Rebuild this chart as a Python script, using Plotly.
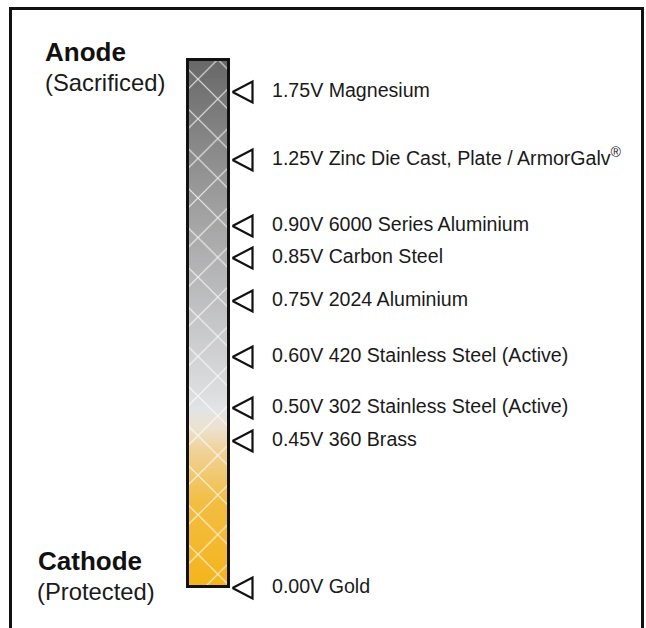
import plotly.graph_objects as go

# ---- data ----
voltages = [1.75, 1.25, 0.90, 0.85, 0.75, 0.60, 0.50, 0.45, 0.00]
metals = [
    "Magnesium",
    "Zinc Die Cast, Plate / ArmorGalv<sup>®</sup>",
    "6000 Series Aluminium",
    "Carbon Steel",
    "2024 Aluminium",
    "420 Stainless Steel (Active)",
    "302 Stainless Steel (Active)",
    "360 Brass",
    "Gold",
]
# vertical position of each entry on the (schematic) scale, top = anode
slot = [92, 160, 226, 258, 301, 357, 408, 441, 588]

bar_top, bar_bottom = 59.5, 586.5
bar_left, bar_right = 187.5, 228.5

# gradient colour stops (fraction from top of bar)
grad_stops = [
    [0.00, "#676767"],
    [0.30, "#a3a3a4"],
    [0.665, "#e2e3e5"],
    [0.70, "#ece2cf"],
    [0.74, "#efd39c"],
    [0.84, "#f2bd42"],
    [1.00, "#f4b41c"],
]

N = 200
ys = [bar_top + (bar_bottom - bar_top) * i / N for i in range(N + 1)]
zs = [[(i + 0.5) / N] for i in range(N)]

FONT = "Arial, Liberation Sans, sans-serif"

fig = go.Figure()

# gradient fill of the bar
fig.add_trace(go.Heatmap(
    x=[bar_left, bar_right], y=ys, z=zs,
    colorscale=grad_stops, zmin=0, zmax=1,
    showscale=False, hoverinfo="skip",
))

# outline + crosshatch
fig.add_trace(go.Bar(
    x=[(bar_left + bar_right) / 2], y=[bar_bottom - bar_top], base=[bar_top],
    width=[bar_right - bar_left],
    marker=dict(
        color="rgba(0,0,0,0)",
        line=dict(color="#111111", width=3),
        pattern=dict(shape="x", fgcolor="white", fgopacity=0.8,
                     size=28, solidity=0.08, fillmode="overlay"),
    ),
    hoverinfo="skip", showlegend=False,
))

# open triangles pointing at the bar
tip_x, base_x, half_h = 232.5, 252.5, 10.5
tx, ty = [], []
for s in slot:
    tx += [tip_x, base_x, base_x, tip_x, None]
    ty += [s, s - half_h, s + half_h, s, None]
fig.add_trace(go.Scatter(
    x=tx, y=ty, mode="lines",
    line=dict(color="#111111", width=2.2),
    hoverinfo="skip", showlegend=False,
))

# labels
fig.add_trace(go.Scatter(
    x=[272] * len(slot), y=slot, mode="text",
    text=[f"{v:.2f}V {m}" for v, m in zip(voltages, metals)],
    textposition="middle right",
    textfont=dict(family=FONT, size=19.6, color="#1a1a1a"),
    hoverinfo="skip", showlegend=False,
))

font_b = dict(family=FONT, size=26, color="#111111")
font_r = dict(family=FONT, size=23.8, color="#1a1a1a")
fig.add_annotation(x=43, y=52, text="<b>Anode</b>", showarrow=False,
                   xanchor="left", yanchor="middle", font=font_b)
fig.add_annotation(x=43, y=82, text="(Sacrificed)", showarrow=False,
                   xanchor="left", yanchor="middle", font=font_r)
fig.add_annotation(x=36, y=561, text="<b>Cathode</b>", showarrow=False,
                   xanchor="left", yanchor="middle", font=font_b)
fig.add_annotation(x=35, y=591, text="(Protected)", showarrow=False,
                   xanchor="left", yanchor="middle", font=font_r)

# frame
fig.add_shape(type="rect", x0=10.5, y0=8.5, x1=642.5, y1=660,
              line=dict(color="#111111", width=3), layer="above")

fig.update_layout(
    width=646, height=628,
    margin=dict(l=0, r=0, t=0, b=0),
    paper_bgcolor="white", plot_bgcolor="white",
    xaxis=dict(range=[0, 646], visible=False, fixedrange=True),
    yaxis=dict(range=[628, 0], visible=False, fixedrange=True),
    showlegend=False,
)

fig.write_html(
    "out.html",
    config={"displayModeBar": False, "staticPlot": True},
    post_script="document.body.style.margin='0';document.body.style.padding='0';"
                "document.body.style.overflow='hidden';",
)
